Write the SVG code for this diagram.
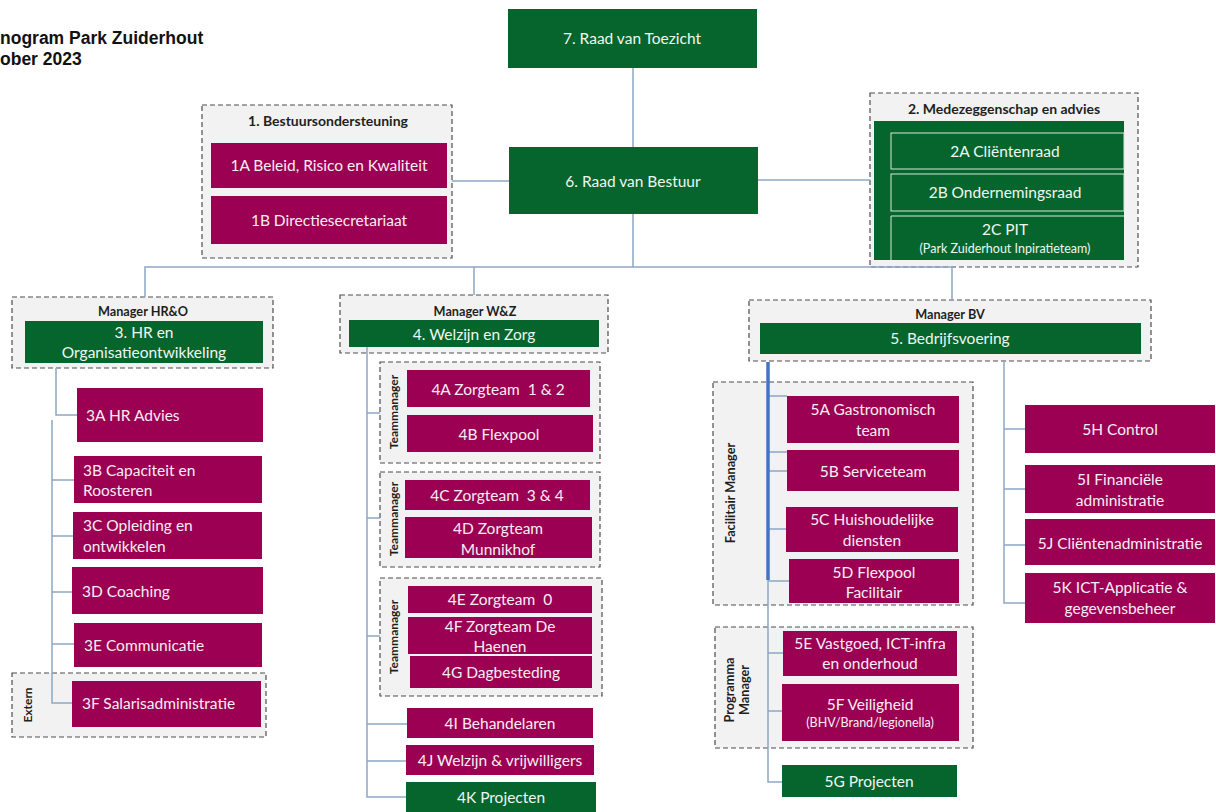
<svg xmlns="http://www.w3.org/2000/svg" width="1216" height="812" viewBox="0 0 1216 812">
<style>
.dash{fill:#f2f2f2;stroke:#4d4d4d;stroke-width:1.2;stroke-dasharray:5 3}
.mag{fill:#9b0052}
.grn{fill:#06652d}
.t{font-family:Lato,"Liberation Sans",sans-serif;font-size:15.5px;fill:#f8eef4;text-anchor:middle;dominant-baseline:central}
.tg{fill:#eef7f1}
.l{text-anchor:start}
.s{font-size:12.5px}
.pre{white-space:pre}
.h{font-family:Lato,"Liberation Sans",sans-serif;font-weight:bold;fill:#1f1f1f;text-anchor:middle;dominant-baseline:central;font-size:12.7px}
.h13{font-size:14px}
.v{font-size:12px}
.title{font-family:"Liberation Sans",Arial,sans-serif;font-weight:bold;font-size:17.5px;fill:#111}
.conn{stroke:#8ea6c6;stroke-width:1.5;fill:none}
.thick{stroke:#4472c4;stroke-width:3.5;fill:none}
.inner{fill:none;stroke:#d5e8da;stroke-width:1}
</style>
<g id="title">
<text class="title" x="0" y="44">nogram Park Zuiderhout</text>
<text class="title" x="0" y="65">ober 2023</text>
</g>
<g id="containers">
<rect class="dash" x="202" y="105" width="250" height="153"/>
<rect class="dash" x="870" y="93" width="268" height="174"/>
<rect class="dash" x="12" y="297" width="261" height="71"/>
<rect class="dash" x="12" y="673" width="254" height="64"/>
<rect class="dash" x="340" y="295" width="268" height="58"/>
<rect class="dash" x="380" y="362" width="220" height="101"/>
<rect class="dash" x="380" y="472" width="220" height="95"/>
<rect class="dash" x="380" y="578" width="222" height="118"/>
<rect class="dash" x="749" y="300" width="402" height="61"/>
<rect class="dash" x="713" y="382" width="260" height="223"/>
<rect class="dash" x="715" y="627" width="258" height="121"/>
</g>
<g id="connectors">
<path class="conn" d="M633,68 V147"/>
<path class="conn" d="M633,214 V267"/>
<path class="conn" d="M145,297 V267 H952 V300"/>
<path class="conn" d="M474,267 V295"/>
<path class="conn" d="M452,181 H509"/>
<path class="conn" d="M758,180 H870"/>
<path class="conn" d="M56,368 V415 H77"/>
<path class="conn" d="M52,420 V703 H72 M52,480 H74 M52,536 H73 M52,592 H72 M52,644 H74"/>
<path class="conn" d="M367,347 V797 H406 M367,413 H380 M367,518 H380 M367,636 H380 M367,724 H407 M367,761 H406"/>
<path class="conn" d="M768,580 V782 H782 M768,396 H787 M768,452 H787 M768,471 H787 M768,529 H786 M768,581 H789 M768,653 H783 M768,711 H782"/>
<path class="thick" d="M768,362 V580"/>
<path class="conn" d="M1004,361 V603 H1025 M1004,429 H1025 M1004,489 H1025 M1004,545 H1025"/>
</g>
<g id="n7"><rect class="grn" x="508" y="9" width="249" height="59"/><text class="t tg" x="632" y="38">7. Raad van Toezicht</text></g>
<g id="n6"><rect class="grn" x="509" y="147" width="249" height="67"/><text class="t tg" x="633" y="181">6. Raad van Bestuur</text></g>
<g id="n1"><text class="h h13" x="328" y="120">1. Bestuursondersteuning</text></g>
<g id="n1A"><rect class="mag" x="211" y="143" width="236" height="45"/><text class="t" x="329" y="165">1A Beleid, Risico en Kwaliteit</text></g>
<g id="n1B"><rect class="mag" x="211" y="196" width="236" height="48"/><text class="t" x="329" y="220">1B Directiesecretariaat</text></g>
<g id="n2">
<text class="h h13" x="1004" y="108">2. Medezeggenschap en advies</text>
<rect class="grn" x="874" y="121" width="250" height="139"/>
</g>
<g id="n2A"><rect class="inner" x="891" y="133" width="233" height="36"/><text class="t tg" x="1005" y="151">2A Cliëntenraad</text></g>
<g id="n2B"><rect class="inner" x="891" y="174" width="233" height="37"/><text class="t tg" x="1005" y="192">2B Ondernemingsraad</text></g>
<g id="n2C"><path class="inner" d="M891,260 V216 H1124"/><text class="t tg" x="1005" y="229">2C PIT</text><text class="t tg s" x="1005" y="248">(Park Zuiderhout Inpiratieteam)</text></g>
<g id="n3">
<text class="h" x="143" y="311">Manager HR&amp;O</text>
<rect class="grn" x="25" y="321" width="238" height="42"/>
<text class="t tg" x="144" y="332">3. HR en</text>
<text class="t tg" x="144" y="352">Organisatieontwikkeling</text>
</g>
<g id="n3A"><rect class="mag" x="77" y="388" width="186" height="54"/><text class="t l" x="86" y="415">3A HR Advies</text></g>
<g id="n3B"><rect class="mag" x="74" y="456" width="188" height="47"/><text class="t l" x="83" y="470">3B Capaciteit en</text><text class="t l" x="83" y="490">Roosteren</text></g>
<g id="n3C"><rect class="mag" x="73" y="512" width="189" height="47"/><text class="t l" x="83" y="525">3C Opleiding en</text><text class="t l" x="83" y="546">ontwikkelen</text></g>
<g id="n3D"><rect class="mag" x="72" y="567" width="191" height="47"/><text class="t l" x="82" y="591">3D Coaching</text></g>
<g id="n3E"><rect class="mag" x="74" y="623" width="188" height="44"/><text class="t l" x="84" y="645">3E Communicatie</text></g>
<g id="extern"><text class="h v" transform="translate(27,705) rotate(-90)" x="0" y="0">Extern</text></g>
<g id="n3F"><rect class="mag" x="72" y="681" width="189" height="46"/><text class="t l" x="82" y="703">3F Salarisadministratie</text></g>
<g id="n4">
<text class="h" x="475" y="311">Manager W&amp;Z</text>
<rect class="grn" x="349" y="320" width="250" height="27"/>
<text class="t tg" x="474" y="334">4. Welzijn en Zorg</text>
</g>
<g id="tm1"><text class="h v" transform="translate(393,412) rotate(-90)" x="0" y="0">Teammanager</text></g>
<g id="n4A"><rect class="mag" x="407" y="370" width="183" height="37"/><text class="t pre" x="498" y="389" xml:space="preserve">4A Zorgteam  1 &amp; 2</text></g>
<g id="n4B"><rect class="mag" x="407" y="415" width="186" height="37"/><text class="t" x="499" y="434">4B Flexpool</text></g>
<g id="tm2"><text class="h v" transform="translate(393,519) rotate(-90)" x="0" y="0">Teammanager</text></g>
<g id="n4C"><rect class="mag" x="405" y="480" width="185" height="30"/><text class="t pre" x="497" y="495" xml:space="preserve">4C Zorgteam  3 &amp; 4</text></g>
<g id="n4D"><rect class="mag" x="405" y="517" width="187" height="41"/><text class="t" x="498" y="528">4D Zorgteam</text><text class="t" x="498" y="549">Munnikhof</text></g>
<g id="tm3"><text class="h v" transform="translate(393,637) rotate(-90)" x="0" y="0">Teammanager</text></g>
<g id="n4E"><rect class="mag" x="408" y="586" width="184" height="27"/><text class="t pre" x="500" y="599" xml:space="preserve">4E Zorgteam  0</text></g>
<g id="n4F"><rect class="mag" x="408" y="617" width="184" height="37"/><text class="t" x="500" y="626">4F Zorgteam De</text><text class="t" x="500" y="646">Haenen</text></g>
<g id="n4G"><rect class="mag" x="410" y="656" width="182" height="32"/><text class="t" x="501" y="672">4G Dagbesteding</text></g>
<g id="n4I"><rect class="mag" x="407" y="708" width="186" height="30"/><text class="t" x="500" y="723">4I Behandelaren</text></g>
<g id="n4J"><rect class="mag" x="406" y="745" width="188" height="30"/><text class="t" x="500" y="760">4J Welzijn &amp; vrijwilligers</text></g>
<g id="n4K"><rect class="grn" x="406" y="782" width="190" height="30"/><text class="t tg" x="501" y="797">4K Projecten</text></g>
<g id="n5">
<text class="h" x="950" y="314">Manager BV</text>
<rect class="grn" x="760" y="323" width="381" height="31"/>
<text class="t tg" x="950" y="338">5. Bedrijfsvoering</text>
</g>
<g id="fm"><text class="h" transform="translate(730,493) rotate(-90)" x="0" y="0">Facilitair Manager</text></g>
<g id="n5A"><rect class="mag" x="787" y="396" width="172" height="47"/><text class="t" x="873" y="409">5A Gastronomisch</text><text class="t" x="873" y="430">team</text></g>
<g id="n5B"><rect class="mag" x="787" y="450" width="172" height="41"/><text class="t" x="873" y="471">5B Serviceteam</text></g>
<g id="n5C"><rect class="mag" x="786" y="507" width="172" height="45"/><text class="t" x="872" y="519">5C Huishoudelijke</text><text class="t" x="872" y="540">diensten</text></g>
<g id="n5D"><rect class="mag" x="789" y="559" width="170" height="44"/><text class="t" x="874" y="572">5D Flexpool</text><text class="t" x="874" y="592">Facilitair</text></g>
<g id="pm"><text class="h" transform="translate(729,690) rotate(-90)" x="0" y="0">Programma</text><text class="h" transform="translate(744,690) rotate(-90)" x="0" y="0">Manager</text></g>
<g id="n5E"><rect class="mag" x="783" y="631" width="174" height="45"/><text class="t" x="870" y="643">5E Vastgoed, ICT-infra</text><text class="t" x="870" y="663">en onderhoud</text></g>
<g id="n5F"><rect class="mag" x="782" y="684" width="177" height="57"/><text class="t" x="870" y="704">5F Veiligheid</text><text class="t s" x="870" y="722">(BHV/Brand/legionella)</text></g>
<g id="n5G"><rect class="grn" x="782" y="765" width="175" height="32"/><text class="t tg" x="869" y="781">5G Projecten</text></g>
<g id="n5H"><rect class="mag" x="1025" y="405" width="190" height="48"/><text class="t" x="1120" y="429">5H Control</text></g>
<g id="n5I"><rect class="mag" x="1025" y="465" width="190" height="48"/><text class="t" x="1120" y="479">5I Financiële</text><text class="t" x="1120" y="500">administratie</text></g>
<g id="n5J"><rect class="mag" x="1025" y="519" width="190" height="46"/><text class="t" x="1120" y="543">5J Cliëntenadministratie</text></g>
<g id="n5K"><rect class="mag" x="1025" y="573" width="190" height="50"/><text class="t" x="1120" y="587">5K ICT-Applicatie &amp;</text><text class="t" x="1120" y="608">gegevensbeheer</text></g>
</svg>
